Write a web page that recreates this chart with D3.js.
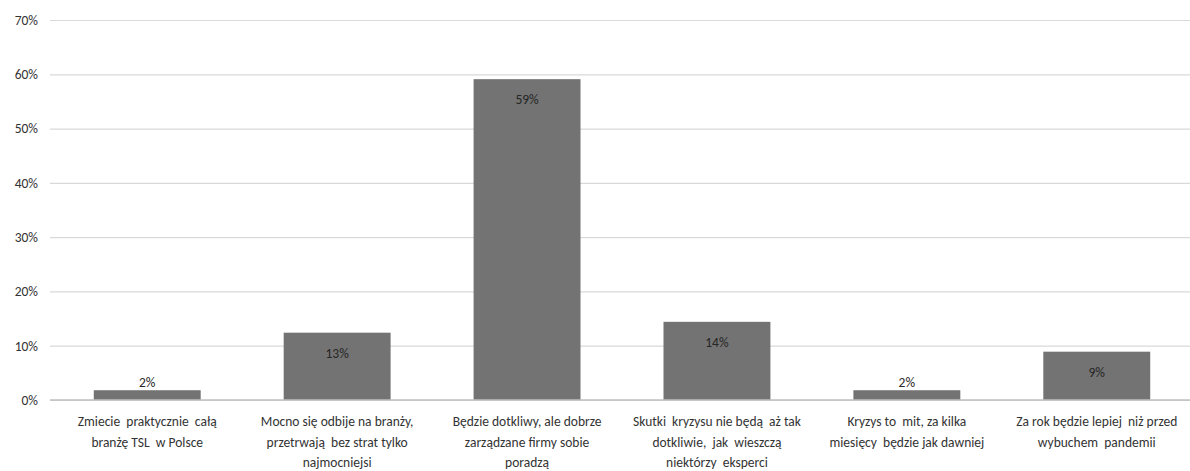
<!DOCTYPE html>
<html>
<head>
<meta charset="utf-8">
<script src="https://cdn.jsdelivr.net/npm/d3@7"></script>
<style>
  body { margin: 0; background: #fff; }
  text { font-family: Carlito, Lato, sans-serif; fill: #333333; }
</style>
</head>
<body>
<svg class="chart" width="1190" height="471"></svg>
<script>
// categories (each one split into lines as in the original)
var categories = [
    ["Zmiecie  praktycznie  całą", "branżę TSL  w Polsce"],
    ["Mocno się odbije na branży,", "przetrwają  bez strat tylko", "najmocniejsi"],
    ["Będzie dotkliwy, ale dobrze", "zarządzane firmy sobie", "poradzą"],
    ["Skutki  kryzysu nie będą  aż tak", "dotkliwie,  jak  wieszczą", "niektórzy  eksperci"],
    ["Kryzys to  mit, za kilka", "miesięcy  będzie jak dawniej"],
    ["Za rok będzie lepiej  niż przed", "wybuchem  pandemii"]
];
var values = [0.018, 0.124, 0.591, 0.144, 0.018, 0.089];
var value_labels = ["2%", "13%", "59%", "14%", "2%", "9%"];
var y_ticks = [0, 0.1, 0.2, 0.3, 0.4, 0.5, 0.6, 0.7];

var svg = d3.select("svg.chart");
var m_left = 52, m_right = 1192, m_top = 20, m_bottom = 400;

var x = d3.scaleBand()
    .domain(d3.range(categories.length))
    .range([m_left, m_right])
    .paddingInner(0.437)
    .paddingOuter(0.22);

var y = d3.scaleLinear().domain([0, 0.7]).range([m_bottom, m_top]);

//gridlines + y labels
var yAxis = d3.axisLeft(y)
    .tickValues(y_ticks)
    .tickFormat(d3.format(".0%"))
    .tickSize(-(m_right - m_left))
    .tickPadding(12);

svg.append("g")
    .attr("transform", `translate(${m_left - 2},0)`)
    .call(yAxis)
    .call(g => g.select(".domain").remove())
    .call(g => g.selectAll(".tick line").attr("stroke", "#d9d9d9").attr("stroke-width", 1.2))
    .call(g => g.selectAll(".tick text")
        .style("font-size", "13.5px")
        .style("font-family", "Carlito, Lato, sans-serif")
        .attr("fill", "#404040"));

//bars
svg.append("g")
    .selectAll("rect")
    .data(values)
    .enter()
    .append("rect")
        .attr("x", (d, i) => x(i))
        .attr("width", x.bandwidth())
        .attr("y", d => y(d))
        .attr("height", d => y(0) - y(d))
        .attr("fill", "#737373");

//zero line
svg.append("line")
    .attr("x1", m_left - 2).attr("x2", m_right)
    .attr("y1", y(0)).attr("y2", y(0))
    .attr("stroke", "#bfbfbf")
    .attr("stroke-width", 1.5);

//value labels (inside bar if tall enough, above otherwise)
svg.append("g")
    .selectAll("text")
    .data(values)
    .enter()
    .append("text")
        .attr("x", (d, i) => x(i) + x.bandwidth() / 2)
        .attr("y", d => (y(0) - y(d) > 30) ? y(d) + 25 : y(d) - 3)
        .attr("text-anchor", "middle")
        .style("font-size", "13.5px")
        .style("fill", "#262626")
        .text((d, i) => value_labels[i]);

//category labels
var cat = svg.append("g")
    .selectAll("text")
    .data(categories)
    .enter()
    .append("text")
        .attr("text-anchor", "middle")
        .attr("transform", (d, i) => `translate(${x(i) + x.bandwidth() / 2},${m_bottom + 26})`)
        .style("font-size", "13.5px");

cat.selectAll("tspan")
    .data(d => d)
    .enter()
    .append("tspan")
        .attr("x", 0)
        .attr("dy", (d, i) => i == 0 ? 0 : 20.5)
        .style("white-space", "pre")
        .text(d => d);
</script>
</body>
</html>
